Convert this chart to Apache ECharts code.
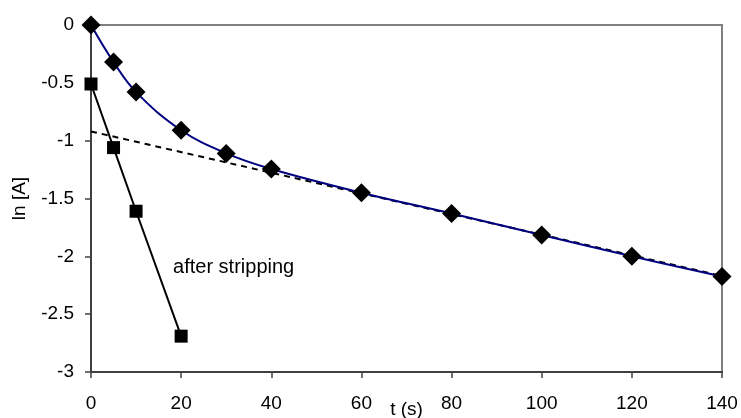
<!DOCTYPE html>
<html>
<head>
<meta charset="utf-8">
<script src="https://cdn.jsdelivr.net/npm/echarts@6/dist/echarts.min.js"></script>
<style>
  html, body { margin: 0; padding: 0; background: #fff; }
  #chart { width: 741px; height: 418px; }
</style>
</head>
<body>
<div id="chart"></div>
<script>
// measured ln[A] values
var tMeasured = [0, 5, 10, 20, 30, 40, 60, 80, 100, 120, 140];
var lnMeasured = [0, -0.32, -0.58, -0.91, -1.11, -1.245, -1.45, -1.63, -1.815, -2.0, -2.175];

// residuals after stripping
var tStripped = [0, 5, 10, 20];
var lnStripped = [-0.51, -1.06, -1.61, -2.69];

// extrapolated slow component (dashed)
var tSlow = [0, 140];
var lnSlow = [-0.92, -2.17];

var labelPos = [18.2, -2.1];
var fontFam = '"Liberation Sans", Arial, sans-serif';

function pairs(xs, ys) {
	var out = [];
	for (var i = 0; i < xs.length; i++) {
		out.push([xs[i], ys[i]]);
	}
	return out;
}

var myChart = echarts.init(document.getElementById('chart'));
var option = {
	animation: false,
	grid: {
		left: 91,
		right: 19,
		top: 25,
		bottom: 46,
		containLabel: false,
		outerBoundsMode: 'none',
		show: true,
		borderColor: '#808080',
		borderWidth: 2,
		backgroundColor: '#fff'
	},
	xAxis: {
		type: 'value',
		min: 0,
		max: 140,
		interval: 20,
		name: 't (s)',
		nameLocation: 'middle',
		nameGap: 28,
		nameMoveOverlap: false,
		nameTextStyle: { fontFamily: fontFam, fontSize: 19, color: '#000' },
		axisLine: { onZero: false, lineStyle: { color: '#404040', width: 2 } },
		axisTick: { show: true, inside: false, length: 6, lineStyle: { color: '#404040', width: 1.5 } },
		axisLabel: { fontFamily: fontFam, fontSize: 19, color: '#000', margin: 22 },
		splitLine: { show: false }
	},
	yAxis: {
		type: 'value',
		min: -3,
		max: 0,
		interval: 0.5,
		name: 'ln [A]',
		nameLocation: 'middle',
		nameGap: 62,
		nameMoveOverlap: false,
		nameTextStyle: { fontFamily: fontFam, fontSize: 19, color: '#000' },
		axisLine: { onZero: false, lineStyle: { color: '#404040', width: 2 } },
		axisTick: { show: true, inside: false, length: 6, lineStyle: { color: '#404040', width: 1.5 } },
		axisLabel: { fontFamily: fontFam, fontSize: 19, color: '#000', margin: 17 },
		splitLine: { show: false }
	},
	series: [{
		name: 'slow',
		type: 'line',
		data: pairs(tSlow, lnSlow),
		showSymbol: false,
		symbol: 'none',
		lineStyle: { color: '#000', width: 2, type: [6, 5] },
		z: 2,
		markPoint: {
			symbol: 'circle',
			symbolSize: 0,
			data: [{
				coord: labelPos,
				label: {
					show: true,
					position: 'right',
					distance: 0,
					formatter: 'after stripping',
					fontFamily: fontFam,
					fontSize: 20,
					color: '#000'
				}
			}]
		}
	}, {
		name: 'measured',
		type: 'line',
		data: pairs(tMeasured, lnMeasured),
		smooth: 0.4,
		symbol: 'diamond',
		symbolSize: [19, 19],
		itemStyle: { color: '#000' },
		lineStyle: { color: '#000080', width: 2 },
		clip: false,
		z: 4
	}, {
		name: 'stripped',
		type: 'line',
		data: pairs(tStripped, lnStripped),
		symbol: 'rect',
		symbolSize: 13,
		itemStyle: { color: '#000' },
		lineStyle: { color: '#000', width: 2 },
		clip: false,
		z: 3
	}]
};
myChart.setOption(option);
</script>
</body>
</html>
